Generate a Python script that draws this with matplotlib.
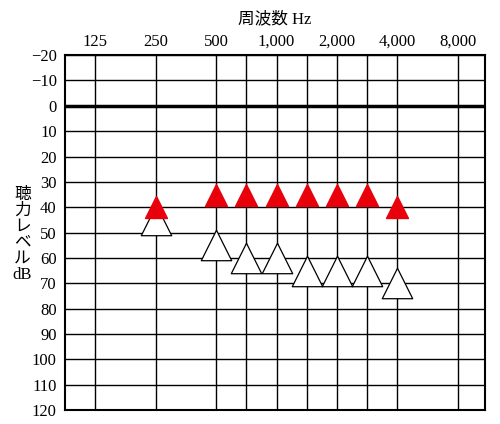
import matplotlib
matplotlib.use("Agg")
import matplotlib.pyplot as plt
import numpy as np

plt.rcParams['font.family'] = ['Liberation Serif', 'Noto Sans CJK JP', 'DejaVu Sans']

label_freqs = [125, 250, 500, 1000, 2000, 4000, 8000]
label_texts = ["125", "250", "500", "1,000", "2,000", "4,000", "8,000"]
grid_freqs = [125, 250, 500, 750, 1000, 1500, 2000, 3000, 4000, 8000]

red_freqs = [250, 500, 750, 1000, 1500, 2000, 3000, 4000]
red_db = [40, 35, 35, 35, 35, 35, 35, 40]
white_freqs = [250, 500, 750, 1000, 1500, 2000, 3000, 4000]
white_db = [45, 55, 60, 60, 65, 65, 65, 70]


def pos(f):
    # audiogram axis: octaves, with half-way points for 750/1500/3000
    f = np.asarray(f, dtype=float)
    octave = np.floor(np.log2(f / 125) + 1e-9)
    base = 125 * 2 ** octave
    return octave + (f - base) / base


fig = plt.figure(figsize=(5, 4.24), dpi=100)
ax = fig.add_axes([0.13, 0.033, 0.84, 0.837])
ax.set_xlim(-0.5, 6.45)
ax.set_ylim(120, -20)

for x in pos(grid_freqs):
    ax.axvline(x, color="black", lw=1)
for d in range(-20, 121, 10):
    ax.axhline(d, color="black", lw=2.5 if d == 0 else 1)

ax.scatter(pos(white_freqs), white_db, marker="^", s=480, facecolor="white",
           edgecolor="black", linewidth=0.9, zorder=3)
ax.scatter(pos(red_freqs), red_db, marker="^", s=250, color="#e8000b", zorder=4)

ax.xaxis.tick_top()
ax.set_xticks(pos(label_freqs))
ax.set_xticklabels(label_texts, fontsize=12)
ax.tick_params(axis="x", length=0, pad=4)
ax.set_yticks(range(-20, 121, 10))
ax.set_yticklabels([str(d).replace("-", "−") for d in range(-20, 121, 10)], fontsize=12)
ax.tick_params(axis="y", length=0, pad=6)
for s in ax.spines.values():
    s.set_linewidth(1.5)

fig.text(0.55, 0.955, "周波数 Hz", ha="center", va="center", fontsize=12)
fig.text(0.045, 0.56, "聴\n力\nレ\nベ\nル\ndB", ha="center", va="top", fontsize=12, linespacing=1.0)

fig.savefig("out.png", dpi=100)
